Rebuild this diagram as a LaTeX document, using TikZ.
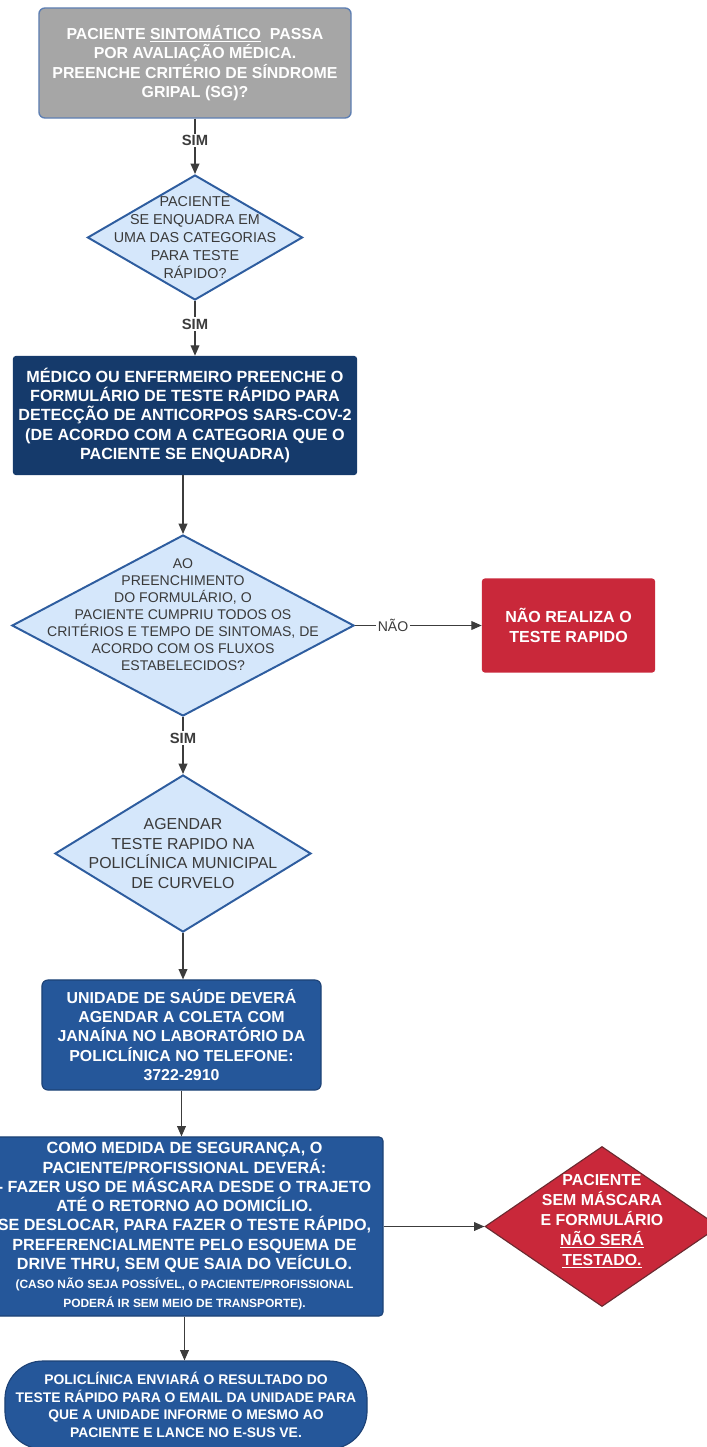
\documentclass[tikz,border=0pt]{standalone}
\usepackage{fontspec}
\setmainfont{Liberation Sans}
\usepackage{xcolor}
\usetikzlibrary{shapes.geometric, arrows.meta, positioning, calc}

\definecolor{boxgray}{HTML}{A6A6A6}
\definecolor{grayedge}{HTML}{5E7FB3}
\definecolor{dialight}{HTML}{D5E7FB}
\definecolor{diaedge}{HTML}{2E5D9F}
\definecolor{navy}{HTML}{153A6B}
\definecolor{midblue}{HTML}{25579A}
\definecolor{blueedge}{HTML}{1D4276}
\definecolor{alertred}{HTML}{C9283A}
\definecolor{rededge}{HTML}{6B2A30}
\definecolor{linegray}{HTML}{3C3C3C}
\definecolor{diatext}{HTML}{3A3A3A}

\newcommand{\smallnote}{\fontsize{8.5}{10.4}\selectfont}

\begin{document}
\begin{tikzpicture}[
  x=0.025cm, y=-0.025cm,
  box/.style={rectangle, inner sep=0pt, align=center, text=white,
    font=\fontsize{11.3}{13.7}\selectfont\bfseries},
  dia/.style={diamond, draw=diaedge, fill=dialight, line width=1.4pt, inner sep=0pt},
  diatxt/.style={align=center, text=diatext, inner sep=0pt},
  arr/.style={draw=linegray, line width=0.9pt, -{Triangle[length=2.6mm, width=2.2mm]}},
  lab/.style={fill=white, inner sep=1pt, text=linegray,
    font=\fontsize{10.5}{12}\selectfont\bfseries},
]

  \useasboundingbox (0,0) rectangle (707,1447);

  % ── Triagem ──
  \node[box, fill=boxgray, draw=grayedge, line width=1pt, rounded corners=0.15cm,
        minimum width=7.8cm, minimum height=2.75cm] (g1) at (195,63)
    {PACIENTE \underline{SINTOMÁTICO}\ \ PASSA\\
     POR AVALIAÇÃO MÉDICA.\\
     PREENCHE CRITÉRIO DE SÍNDROME\\
     GRIPAL (SG)?};

  \node[dia, minimum width=5.375cm, minimum height=3.125cm] (d1) at (195,237.5) {};
  \node[diatxt, font=\fontsize{10.2}{12.8}\selectfont] (d1t) at (d1)
    {PACIENTE\\ SE ENQUADRA EM\\ UMA DAS CATEGORIAS\\ PARA TESTE\\ RÁPIDO?};

  % ── Formulário ──
  \node[box, fill=navy, rounded corners=0.07cm, font=\fontsize{11.5}{13.7}\selectfont\bfseries,
        minimum width=8.6cm, minimum height=2.975cm] (b3) at (185,415.5)
    {MÉDICO OU ENFERMEIRO PREENCHE O\\
     FORMULÁRIO DE TESTE RÁPIDO PARA\\
     DETECÇÃO DE ANTICORPOS SARS-COV-2\\
     (DE ACORDO COM A CATEGORIA QUE O\\
     PACIENTE SE ENQUADRA)};

  \node[dia, minimum width=8.55cm, minimum height=4.525cm] (d2) at (183,625.5) {};
  \node[diatxt, font=\fontsize{10}{12.1}\selectfont] (d2t) at (183,615)
    {AO\\ PREENCHIMENTO\\ DO FORMULÁRIO, O\\ PACIENTE CUMPRIU TODOS OS\\
     CRITÉRIOS E TEMPO DE SINTOMAS, DE\\ ACORDO COM OS FLUXOS\\ ESTABELECIDOS?};

  \node[box, fill=alertred, rounded corners=0.07cm, font=\fontsize{11.4}{14.2}\selectfont\bfseries,
        minimum width=4.325cm, minimum height=2.35cm] (rb) at (568.5,625.5)
    {NÃO REALIZA O\\ TESTE RAPIDO};

  % ── Agendamento ──
  \node[dia, minimum width=6.4cm, minimum height=3.925cm] (d3) at (183,853.5) {};
  \node[diatxt, font=\fontsize{11.3}{14}\selectfont] (d3t) at (d3)
    {AGENDAR\\ TESTE RAPIDO NA\\ POLICLÍNICA MUNICIPAL\\ DE CURVELO};

  \node[box, fill=midblue, draw=blueedge, line width=0.8pt, rounded corners=0.15cm,
        minimum width=6.975cm, minimum height=2.75cm] (b5) at (181.5,1035)
    {UNIDADE DE SAÚDE DEVERÁ\\
     AGENDAR A COLETA COM\\
     JANAÍNA NO LABORATÓRIO DA\\
     POLICLÍNICA NO TELEFONE:\\
     3722-2910};

  % ── Segurança ──
  \node[box, fill=midblue, draw=blueedge, line width=0.8pt, rounded corners=0.1cm,
        font=\fontsize{11.5}{13.7}\selectfont\bfseries,
        minimum width=9.925cm, minimum height=4.475cm] (b6) at (184.5,1226.5)
    {COMO MEDIDA DE SEGURANÇA, O\\
     PACIENTE/PROFISSIONAL DEVERÁ:\\
     - FAZER USO DE MÁSCARA DESDE O TRAJETO\\
     ATÉ O RETORNO AO DOMICÍLIO.\\
     SE DESLOCAR, PARA FAZER O TESTE RÁPIDO,\\
     PREFERENCIALMENTE PELO ESQUEMA DE\\
     DRIVE THRU, SEM QUE SAIA DO VEÍCULO.\\
     \smallnote (CASO NÃO SEJA POSSÍVEL, O PACIENTE/PROFISSIONAL\\
     \smallnote PODERÁ IR SEM MEIO DE TRANSPORTE).};

  \node[diamond, inner sep=0pt, fill=alertred, draw=rededge, line width=0.8pt,
        minimum width=5.85cm, minimum height=4cm] (rd) at (602,1226.5) {};
  \node[box, font=\fontsize{11.3}{14.2}\selectfont\bfseries] (rdt) at (602,1221)
    {PACIENTE\\ SEM MÁSCARA\\ E FORMULÁRIO\\ \underline{NÃO SERÁ}\\ \underline{TESTADO.}};

  % ── Resultado ──
  \node[box, fill=midblue, draw=blueedge, line width=0.8pt, rounded corners=0.95cm,
        font=\fontsize{9.9}{12.6}\selectfont\bfseries,
        minimum width=9.05cm, minimum height=2.2cm] (el) at (186,1405)
    {POLICLÍNICA ENVIARÁ O RESULTADO DO\\
     TESTE RÁPIDO PARA O EMAIL DA UNIDADE PARA\\
     QUE A UNIDADE INFORME O MESMO AO\\
     PACIENTE E LANCE NO E-SUS VE.};

  % ── Ligações ──
  \draw[arr] (g1.south) -- node[lab, pos=0.4] {SIM} (d1.north);
  \draw[arr] (d1.south) -- node[lab, pos=0.42] {SIM} (d1.south |- b3.north);
  \draw[arr] (b3.south -| d2.north) -- (d2.north);
  \draw[arr] (d2.east) -- node[lab, pos=0.3, font=\fontsize{10}{12}\selectfont] {NÃO} (rb.west);
  \draw[arr] (d2.south) -- node[lab, pos=0.37] {SIM} (d3.north);
  \draw[arr] (d3.south) -- (d3.south |- b5.north);
  \draw[arr] (b5.south) -- (b5.south |- b6.north);
  \draw[arr] (b6.east) -- (rd.west);
  \draw[arr] (b6.south) -- (b6.south |- el.north);

\end{tikzpicture}
\end{document}
